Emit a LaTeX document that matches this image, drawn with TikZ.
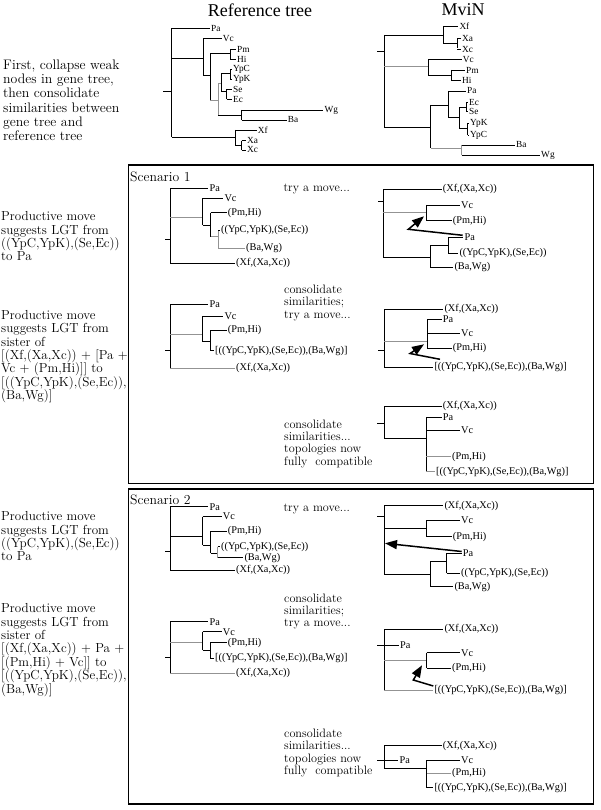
\documentclass[tikz,border=0pt]{standalone}
\usepackage{fontspec}
\newfontfamily\lbf{Liberation Serif}
\usetikzlibrary{arrows.meta}
\tikzset{
  br/.style={draw=black,line width=0.85pt},
  gbr/.style={draw=gray!85},
  lab/.style={font=\lbf\fontsize{10.3}{12}\selectfont,inner sep=0.8pt},
  ttl/.style={font=\lbf\fontsize{18}{20}\selectfont,inner sep=0pt},
  lt/.style={font=\fontsize{13.1}{13.4}\selectfont,align=left,anchor=north west,inner sep=0pt},
  mt/.style={font=\fontsize{12.2}{12.3}\selectfont,align=left,anchor=north west,inner sep=0pt},
  sc/.style={font=\fontsize{13.7}{14}\selectfont,anchor=west,inner sep=0pt},
  mv/.style={line width=1.5pt,line join=miter,-{Triangle[length=12pt,width=9pt]}},
  boxs/.style={draw=black,line width=1.1pt}
}
\newcommand\tleaf[6][]{\draw[br,#1] (#3,#5) -- (#4,#5) node[lab,anchor=west] (#2) {#6};}
\begin{document}
\begin{tikzpicture}[x=1pt,y=-1pt]
\fill[white] (0,0) rectangle (600,810);
\useasboundingbox (0,0) rectangle (600,810);

% titles
\node[ttl] (t1) at (260,10) {Reference tree};
\node[ttl] (t2) at (463,10) {MviN};

% top left text
\node[lt,font=\fontsize{13.8}{14.3}\selectfont] (txt0) at (3,59.5) {First, collapse weak\\nodes in gene tree,\\then consolidate\\similarities between\\gene tree and\\reference tree};

% ---------- reference tree ----------
\begin{scope}[lab/.style={font=\lbf\fontsize{9.3}{11}\selectfont,inner sep=0.8pt}]
\draw[br] (163,91.7) -- (171.7,91.7);
\draw[br] (171.7,28.3) -- (171.7,137.3);
\tleaf{rPa}{171.7}{210}{28.3}{Pa}
\draw[br] (171.7,58.3) -- (203.3,58.3);
\draw[br] (203.3,38.3) -- (203.3,75);
\tleaf{rVc}{203.3}{221.7}{38.3}{Vc}
\draw[br] (203.3,75) -- (210,75);
\draw[br] (210,53.3) -- (210,100);
\draw[br] (210,53.3) -- (230,53.3);
\draw[br] (230,49) -- (230,59.3);
\tleaf{rPm}{230}{236}{49}{Pm}
\tleaf{rHi}{230}{236}{59.3}{Hi}
\draw[br,gbr] (210,100) -- (218.3,100);
\draw[br,gbr] (218.3,83.3) -- (218.3,115);
\draw[br,gbr] (218.3,83.3) -- (221.7,83.3);
\draw[br] (221.7,73.3) -- (221.7,91.7);
\draw[br] (221.7,73.3) -- (230,73.3);
\draw[br] (230,69.3) -- (230,79.3);
\tleaf{rYpC}{230}{232}{69.3}{YpC}
\tleaf{rYpK}{230}{232}{79.3}{YpK}
\draw[br] (221.7,91.7) -- (226.7,91.7);
\draw[br] (226.7,89.3) -- (226.7,99.3);
\tleaf{rSe}{226.7}{232}{89.3}{Se}
\tleaf{rEc}{226.7}{232}{99.3}{Ec}
\draw[br] (218.3,115) -- (241.7,115);
\draw[br] (241.7,110) -- (241.7,120);
\tleaf{rWg}{241.7}{323.3}{110}{Wg}
\tleaf{rBa}{241.7}{286.7}{120}{Ba}
\draw[br] (171.7,137.3) -- (235,137.3);
\draw[br] (235,130) -- (235,145);
\tleaf{rXf}{235}{256.7}{130}{Xf}
\draw[br] (235,145) -- (241.7,145);
\draw[br] (241.7,140.7) -- (241.7,150);
\tleaf{rXa}{241.7}{246}{140.7}{Xa}
\tleaf{rXc}{241.7}{246}{150}{Xc}

% ---------- MviN tree ----------
\draw[br] (377.3,51.7) -- (384,51.7);
\draw[br] (384,35) -- (384,127.3);
\draw[br] (384,35) -- (443.3,35);
\draw[br] (443.3,26.7) -- (443.3,43.3);
\tleaf{mXf}{443.3}{458.3}{26.7}{Xf}
\draw[br] (443.3,43.3) -- (457.3,43.3);
\draw[br] (457.3,38.3) -- (457.3,48.3);
\tleaf{mXa}{457.3}{461}{38.3}{Xa}
\tleaf{mXc}{457.3}{461}{49.5}{Xc}
\draw[br,gbr] (384,66.7) -- (428.3,66.7);
\draw[br] (428.3,59.3) -- (428.3,75);
\tleaf{mVc}{428.3}{461.7}{59.3}{Vc}
\draw[br] (428.3,75) -- (451,75);
\draw[br] (451,70) -- (451,80.7);
\tleaf{mPm}{451}{465}{70}{Pm}
\tleaf{mHi}{451}{461}{80.7}{Hi}
\draw[br] (384,127.3) -- (430.7,127.3);
\draw[br] (430.7,105) -- (430.7,148.3);
\draw[br] (430.7,105) -- (448.3,105);
\draw[br] (448.3,91) -- (448.3,117.7);
\tleaf{mPa}{448.3}{466}{91}{Pa}
\draw[br] (448.3,117.7) -- (459.3,117.7);
\draw[br] (459.3,107.3) -- (459.3,128.3);
\draw[br] (459.3,107.3) -- (466.7,107.3);
\draw[br] (466.7,102.3) -- (466.7,111.7);
\tleaf{mEc}{466.7}{468}{102.3}{Ec}
\tleaf{mSe}{466.7}{468}{111.7}{Se}
\draw[br] (459.3,128.3) -- (467.7,128.3);
\draw[br] (467.7,123.3) -- (467.7,135);
\tleaf{mYpK}{467.7}{469}{123.3}{YpK}
\tleaf{mYpC}{467.7}{469}{135}{YpC}
\draw[br,gbr] (430.7,148.3) -- (461.7,148.3);
\draw[br,gbr] (461.7,145) -- (461.7,155);
\tleaf{mBa}{461.7}{515}{145}{Ba}
\tleaf{mWg}{461.7}{540}{155}{Wg}
\end{scope}

% ---------- Scenario boxes ----------
\draw[boxs] (128.3,165) rectangle (593.3,483.3);
\draw[boxs] (128.3,489) rectangle (593.3,804);
\node[sc] (sc1) at (130,176.7) {Scenario 1};
\node[sc] (sc2) at (130,500) {Scenario 2};

% left texts
\node[lt] (txt1) at (1,211.5) {Productive move\\suggests LGT from\\((YpC,YpK),(Se,Ec))\\to Pa};
\node[lt] (txt2) at (1,310) {Productive move\\suggests LGT from\\sister of\\{}[(Xf,(Xa,Xc)) + [Pa +\\Vc + (Pm,Hi)]] to\\{}[((YpC,YpK),(Se,Ec)),\\(Ba,Wg)]};
\node[lt] (txt3) at (1,511.5) {Productive move\\suggests LGT from\\((YpC,YpK),(Se,Ec))\\to Pa};
\node[lt] (txt4) at (1,603.5) {Productive move\\suggests LGT from\\sister of\\{}[(Xf,(Xa,Xc)) + Pa +\\{}[(Pm,Hi) + Vc]] to\\{}[((YpC,YpK),(Se,Ec)),\\(Ba,Wg)]};

% middle texts
\node[mt] (m1) at (283.3,184) {try a move...};
\node[mt] (m2) at (284,285) {consolidate\\similarities;\\try a move...};
\node[mt] (m3) at (284,419.5) {consolidate\\similarities...\\topologies now\\fully\ \ compatible};
\node[mt] (m4) at (283.3,504) {try a move...};
\node[mt] (m5) at (284,593.5) {consolidate\\similarities;\\try a move...};
\node[mt] (m6) at (284,729) {consolidate\\similarities...\\topologies now\\fully\ \ compatible};

% ===== Scenario 1 row 1 left =====
\draw[br] (165,239.3) -- (170,239.3);
\draw[br] (170,188.3) -- (170,263.3);
\tleaf{a1Pa}{170}{208.3}{188.3}{Pa}
\draw[br,gbr] (170,217.3) -- (202.7,217.3);
\draw[br] (202.7,198.3) -- (202.7,225);
\tleaf{a1Vc}{202.7}{223.3}{198.3}{Vc}
\draw[br] (202.7,225) -- (210.7,225);
\draw[br] (210.7,212.7) -- (210.7,236.7);
\tleaf{a1PH}{210.7}{226.7}{212.7}{(Pm,Hi)}
\draw[br,gbr] (210.7,236.7) -- (218.3,236.7);
\draw[br,gbr] (218.3,230) -- (218.3,248.3);
\tleaf{a1YS}{218.3}{220}{230}{((YpC,YpK),(Se,Ec))}
\tleaf[gbr]{a1BW}{218.3}{245}{248.3}{(Ba,Wg)}
\tleaf{a1X}{170}{235}{263.3}{(Xf,(Xa,Xc))}

% ===== Scenario 1 row 1 right =====
\draw[br] (378.3,201.7) -- (383.3,201.7);
\draw[br] (383.3,189.3) -- (383.3,257.3);
\tleaf{b1X}{383.3}{441.7}{189.3}{(Xf,(Xa,Xc))}
\draw[br,gbr] (383.3,212.7) -- (426.7,212.7);
\draw[br] (426.7,205) -- (426.7,220.7);
\tleaf{b1Vc}{426.7}{460}{205}{Vc}
\tleaf{b1PH}{426.7}{451.7}{220.7}{(Pm,Hi)}
\draw[br] (383.3,257.3) -- (430,257.3);
\draw[br] (430,245) -- (430,267.3);
\draw[br] (430,245) -- (448.3,245);
\draw[br] (448.3,237.3) -- (448.3,253.3);
\tleaf{b1Pa}{448.3}{463.3}{237.3}{Pa}
\tleaf{b1YS}{448.3}{458.3}{253.3}{((YpC,YpK),(Se,Ec))}
\tleaf{b1BW}{430}{453.3}{267.3}{(Ba,Wg)}
\coordinate (b1s) at (462.7,235.3);
\coordinate (b1m) at (408.3,229.3);
\coordinate (b1t) at (424,216.3);
\draw[mv] (b1s) -- (b1m) -- (b1t);

% ===== Scenario 1 row 2 left =====
\draw[br] (165,350) -- (170,350);
\draw[br] (170,304) -- (170,368.3);
\tleaf{a2Pa}{170}{208.3}{304}{Pa}
\draw[br,gbr] (170,334.3) -- (202.7,334.3);
\draw[br] (202.7,316) -- (202.7,341.7);
\tleaf{a2Vc}{202.7}{223.3}{316}{Vc}
\draw[br] (202.7,341.7) -- (210,341.7);
\draw[br] (210,330) -- (210,350.7);
\tleaf{a2PH}{210}{226.7}{330}{(Pm,Hi)}
\tleaf{a2YB}{210}{214}{350.7}{[((YpC,YpK),(Se,Ec)),(Ba,Wg)]}
\tleaf[gbr]{a2X}{170}{235}{368.3}{(Xf,(Xa,Xc))}

% ===== Scenario 1 row 2 right =====
\draw[br] (378.3,350) -- (384,350);
\draw[br] (384,309.3) -- (384,367.3);
\tleaf{b2X}{384}{443.3}{309.3}{(Xf,(Xa,Xc))}
\draw[br,gbr] (384,341.7) -- (427.3,341.7);
\draw[br] (427.3,319.3) -- (427.3,348.3);
\tleaf{b2Pa}{427.3}{441.7}{319.5}{Pa}
\tleaf{b2Vc}{427.3}{460}{333.3}{Vc}
\tleaf{b2PH}{427.3}{451.7}{348.3}{(Pm,Hi)}
\tleaf{b2YB}{384}{433.3}{367.3}{[((YpC,YpK),(Se,Ec)),(Ba,Wg)]}
\coordinate (b2s) at (440,359.3);
\coordinate (b2m) at (410,353.5);
\coordinate (b2t) at (424,344.3);
\draw[mv] (b2s) -- (b2m) -- (b2t);

% ===== Scenario 1 row 3 right =====
\draw[br] (377.3,423.3) -- (384,423.3);
\draw[br] (384,406) -- (384,438.3);
\tleaf{c1X}{384}{441.7}{406}{(Xf,(Xa,Xc))}
\draw[br] (384,438.3) -- (426,438.3);
\draw[br] (426,417.3) -- (426,471.7);
\tleaf{c1Pa}{426}{441.7}{417.3}{Pa}
\tleaf{c1Vc}{426}{460}{430.7}{Vc}
\tleaf[gbr]{c1PH}{426}{451}{456.7}{(Pm,Hi)}
\tleaf[gbr]{c1YB}{426}{435}{471.7}{[((YpC,YpK),(Se,Ec)),(Ba,Wg)]}

% ===== Scenario 2 row 1 left =====
\draw[br] (165,551.7) -- (170,551.7);
\draw[br] (170,506.7) -- (170,570);
\tleaf{a3Pa}{170}{208.3}{506.7}{Pa}
\draw[br] (170,536.7) -- (202.7,536.7);
\draw[br] (202.7,516.7) -- (202.7,545);
\tleaf{a3Vc}{202.7}{221.7}{516.7}{Vc}
\draw[br] (202.7,545) -- (210.7,545);
\draw[br] (210.7,531) -- (210.7,553.3);
\tleaf{a3PH}{210.7}{226.7}{531}{(Pm,Hi)}
\draw[br] (210.7,553.3) -- (217.7,553.3);
\draw[br,gbr] (217.7,546.7) -- (217.7,557.7);
\tleaf{a3YS}{217.7}{220}{546.7}{((YpC,YpK),(Se,Ec))}
\tleaf{a3BW}{217.7}{243.3}{557.7}{(Ba,Wg)}
\tleaf{a3X}{170}{235}{570}{(Xf,(Xa,Xc))}

% ===== Scenario 2 row 1 right =====
\draw[br] (377.3,516.7) -- (384,516.7);
\draw[br] (384,505.7) -- (384,574.3);
\tleaf{b3X}{384}{443.3}{505.7}{(Xf,(Xa,Xc))}
\draw[br] (384,528.3) -- (426,528.3);
\draw[br] (426,520) -- (426,536.7);
\tleaf{b3Vc}{426}{460}{520}{Vc}
\tleaf{b3PH}{426}{451.7}{536.7}{(Pm,Hi)}
\draw[br] (384,574.3) -- (430,574.3);
\draw[br] (430,561) -- (430,586.7);
\draw[br] (430,561) -- (446.7,561);
\draw[br] (446.7,553.3) -- (446.7,573.3);
\tleaf{b3Pa}{446.7}{461.7}{553.3}{Pa}
\tleaf{b3YS}{446.7}{460}{573.3}{((YpC,YpK),(Se,Ec))}
\tleaf{b3BW}{430}{453.3}{586.7}{(Ba,Wg)}
\coordinate (b3s) at (461.7,551.5);
\coordinate (b3t) at (385,543.3);
\draw[mv] (b3s) -- (b3t);

% ===== Scenario 2 row 2 left =====
\draw[br] (165,657.3) -- (170,657.3);
\draw[br] (170,621.7) -- (170,673.3);
\tleaf{a4Pa}{170}{208.3}{621.7}{Pa}
\draw[br,gbr] (170,642.7) -- (202.7,642.7);
\draw[br] (202.7,631.7) -- (202.7,650);
\tleaf{a4Vc}{202.7}{221.7}{631.7}{Vc}
\draw[br] (202.7,650) -- (210,650);
\draw[br] (210,642.7) -- (210,658.3);
\tleaf{a4PH}{210}{226.7}{642.7}{(Pm,Hi)}
\tleaf{a4YB}{210}{214}{658.3}{[((YpC,YpK),(Se,Ec)),(Ba,Wg)]}
\tleaf[gbr]{a4X}{170}{235}{673.3}{(Xf,(Xa,Xc))}

% ===== Scenario 2 row 2 right =====
\draw[br] (377.3,645) -- (384,645);
\draw[br] (384,629.3) -- (384,690);
\tleaf{b4X}{384}{443.3}{629.3}{(Xf,(Xa,Xc))}
\tleaf{b4Pa}{384}{399}{645}{Pa}
\draw[br,gbr] (384,660.7) -- (426.7,660.7);
\draw[br] (426.7,652.7) -- (426.7,668.3);
\tleaf{b4Vc}{426.7}{460}{652.7}{Vc}
\tleaf{b4PH}{426.7}{451}{668.3}{(Pm,Hi)}
\tleaf[gbr]{b4YB}{384}{433.3}{690}{[((YpC,YpK),(Se,Ec)),(Ba,Wg)]}
\coordinate (b4s) at (433.3,686);
\coordinate (b4m) at (413.3,680);
\coordinate (b4t) at (422,665.3);
\draw[mv] (b4s) -- (b4m) -- (b4t);

% ===== Scenario 2 row 3 right =====
\draw[br] (377.3,760) -- (384,760);
\draw[br] (384,745.7) -- (384,768.3);
\tleaf{c2X}{384}{441.7}{745.7}{(Xf,(Xa,Xc))}
\tleaf{c2Pa}{384}{398.3}{760}{Pa}
\draw[br] (384,768.3) -- (426.7,768.3);
\draw[br] (426.7,760) -- (426.7,787.7);
\tleaf{c2Vc}{426.7}{460}{760}{Vc}
\tleaf[gbr]{c2PH}{426.7}{451}{773.3}{(Pm,Hi)}
\tleaf{c2YB}{426.7}{433.3}{787.7}{[((YpC,YpK),(Se,Ec)),(Ba,Wg)]}
\end{tikzpicture}
\end{document}
